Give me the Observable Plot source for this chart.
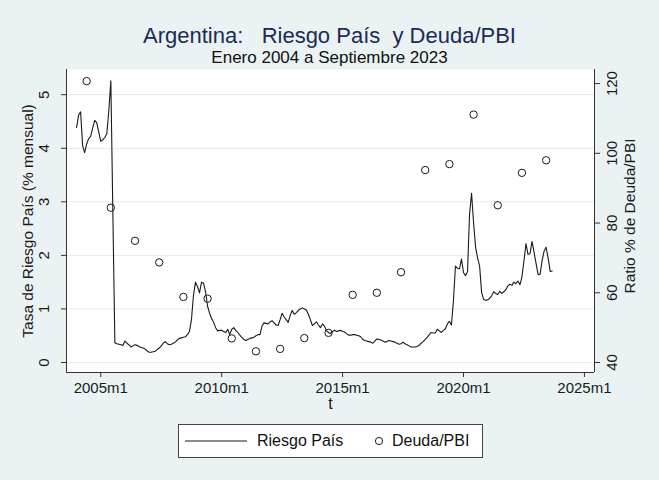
<!DOCTYPE html>
<html><head><meta charset="utf-8">
<script src="https://cdn.jsdelivr.net/npm/d3@7"></script>
<script src="https://cdn.jsdelivr.net/npm/@observablehq/plot@0.6"></script>
<style>
body{margin:0;background:#eaf2f3;font-family:"Liberation Sans",Arial,sans-serif;}
#wrap{position:relative;width:659px;height:480px;overflow:hidden;}
#title{position:absolute;top:24px;left:0;width:659px;text-align:center;font-size:22px;line-height:24px;color:#1c2b55;white-space:pre;}
#sub{position:absolute;top:48px;left:0;width:659px;text-align:center;font-size:17px;line-height:19px;color:#111;}
#chart{position:absolute;top:60px;left:0;}
#legend{position:absolute;left:178px;top:424px;width:305px;height:34px;background:#fff;border:1px solid #444;box-sizing:border-box;font-size:16px;color:#111;}
#legend .t{position:absolute;top:7px;line-height:18px;}
</style></head>
<body><div id="wrap">
<div id="title">Argentina:   Riesgo País  y Deuda/PBI</div>
<div id="sub">Enero 2004 a Septiembre 2023</div>
<div id="chart"></div>
<div id="legend">
<svg width="70" height="32" style="position:absolute;left:6px;top:0"><line x1="0" y1="16" x2="62" y2="16" stroke="#1a1a1a" stroke-width="1.2"/></svg>
<span class="t" style="left:78px">Riesgo País</span>
<svg width="14" height="32" style="position:absolute;left:193px;top:0"><circle cx="7" cy="16" r="3.6" fill="none" stroke="#1a1a1a" stroke-width="1"/></svg>
<span class="t" style="left:213px">Deuda/PBI</span>
</div>
</div>
<script>
// Riesgo País, monthly from 2004m1 to 2023m9
const riesgo = [
4.39,4.62,4.68,4.05,3.92,4.08,4.18,4.22,4.38,4.52,4.48,4.30,4.13,4.16,4.20,4.27,4.70,5.26,2.80,0.37,
0.35,0.34,0.33,0.32,0.40,0.36,0.33,0.29,0.31,0.33,0.32,0.30,0.28,0.27,0.25,0.22,0.19,0.19,0.20,0.21,
0.24,0.27,0.31,0.36,0.39,0.35,0.33,0.34,0.36,0.38,0.42,0.45,0.46,0.47,0.48,0.52,0.58,0.80,1.25,1.50,
1.42,1.30,1.50,1.48,1.32,1.05,0.92,0.82,0.75,0.65,0.59,0.60,0.60,0.58,0.56,0.62,0.52,0.62,0.65,0.60,
0.56,0.51,0.47,0.43,0.41,0.43,0.45,0.46,0.47,0.50,0.52,0.52,0.68,0.74,0.73,0.72,0.76,0.78,0.74,0.70,
0.69,0.80,0.92,0.85,0.80,0.75,0.88,0.97,0.90,0.93,0.97,1.00,1.02,1.00,0.98,0.90,0.80,0.69,0.72,0.76,
0.70,0.65,0.72,0.68,0.59,0.56,0.54,0.58,0.60,0.58,0.59,0.60,0.58,0.57,0.54,0.51,0.51,0.52,0.52,0.51,
0.50,0.48,0.43,0.41,0.40,0.39,0.38,0.36,0.40,0.44,0.43,0.42,0.40,0.38,0.39,0.41,0.40,0.39,0.38,0.36,
0.34,0.35,0.38,0.35,0.33,0.31,0.29,0.29,0.29,0.30,0.32,0.36,0.39,0.43,0.47,0.52,0.56,0.55,0.55,0.62,
0.59,0.56,0.60,0.63,0.72,0.77,0.70,1.15,1.80,1.76,1.75,1.93,1.68,1.62,1.70,2.77,3.16,2.60,2.15,1.95,
1.80,1.30,1.18,1.16,1.17,1.20,1.25,1.32,1.29,1.27,1.33,1.29,1.32,1.36,1.43,1.46,1.44,1.50,1.47,1.52,
1.45,1.60,1.90,2.22,2.02,2.03,2.26,2.06,1.85,1.64,1.65,1.90,2.08,2.15,1.95,1.70,1.71
];
// Deuda/PBI, annual (plotted at June of each year)
const deudaYears = [2004,2005,2006,2007,2008,2009,2010,2011,2012,2013,2014,2015,2016,2017,2018,2019,2020,2021,2022,2023];
const deuda = [120.7,84.4,74.9,68.7,58.8,58.3,46.9,43.2,43.9,47.0,48.5,59.4,60.0,65.9,95.2,96.9,111.1,85.1,94.4,98.0];

const xTickMonths = [12,72,132,192,252];
const xTickLabels = ["2005m1","2010m1","2015m1","2020m1","2025m1"];
const leftTicks = [0,1,2,3,4,5];
const rightTicks = [40,60,80,100,120];

const monthIndex = riesgo.map((d,i)=>i);
const deudaMonth = deudaYears.map(y => (y-2004)*12 + 5);
const toLeft = d => (d - 40) * 0.0651;

const ink = "#1a1a1a";
const chart = Plot.plot({
  width: 659, height: 360,
  marginLeft: 66, marginRight: 65, marginTop: 9, marginBottom: 48,
  x: {domain: [-5, 257], axis: null},
  y: {domain: [-0.187, 5.471], axis: null},
  style: {background: "transparent", fontFamily: "Liberation Sans, Arial, sans-serif", fontSize: "15px", color: ink},
  marks: [
    Plot.frame({fill: "white", stroke: null}),
    Plot.gridY(leftTicks, {stroke: "#e2ebed", strokeOpacity: 1, strokeWidth: 1}),
    Plot.line(monthIndex, {x: i => i, y: i => riesgo[i], stroke: ink, strokeWidth: 1.1}),
    Plot.dot(deuda, {x: (d,i) => deudaMonth[i], y: d => toLeft(d), r: 3.7, stroke: ink, strokeWidth: 1, fill: "none"}),
    Plot.ruleX([-5], {stroke: "#333", strokeWidth: 1}),
    Plot.ruleX([257], {stroke: "#333", strokeWidth: 1}),
    Plot.ruleY([-0.187], {stroke: "#333", strokeWidth: 1}),
    Plot.axisY(leftTicks, {anchor: "left", tickSize: 5, tickFormat: () => "", label: null, stroke: "#333"}),
    Plot.axisY(rightTicks.map(toLeft), {anchor: "right", tickSize: 5, tickFormat: () => "", label: null, stroke: "#333"}),
    Plot.axisX(xTickMonths, {anchor: "bottom", tickSize: 5, tickPadding: 5, fontSize: 15, label: null, stroke: "#333",
      tickFormat: d => xTickLabels[xTickMonths.indexOf(d)]}),
    Plot.text(leftTicks, {y: d => d, text: d => String(d), frameAnchor: "left", textAnchor: "middle", dx: -22, rotate: -90, fontSize: 15, fill: ink}),
    Plot.text(rightTicks, {y: d => toLeft(d), text: d => String(d), frameAnchor: "right", textAnchor: "middle", dx: 18, rotate: -90, fontSize: 15, fill: ink}),
    Plot.text(["Tasa de Riesgo País (% mensual)"], {frameAnchor: "left", textAnchor: "middle", dx: -38, rotate: -90, fontSize: 15.5, fill: ink}),
    Plot.text(["Ratio % de Deuda/PBI"], {frameAnchor: "right", textAnchor: "middle", dx: 36, dy: -5, rotate: -90, fontSize: 15.5, fill: ink}),
    Plot.text(["t"], {frameAnchor: "bottom", dy: 36, fontSize: 16, fill: ink})
  ]
});
document.getElementById("chart").appendChild(chart);
</script>
</body></html>
